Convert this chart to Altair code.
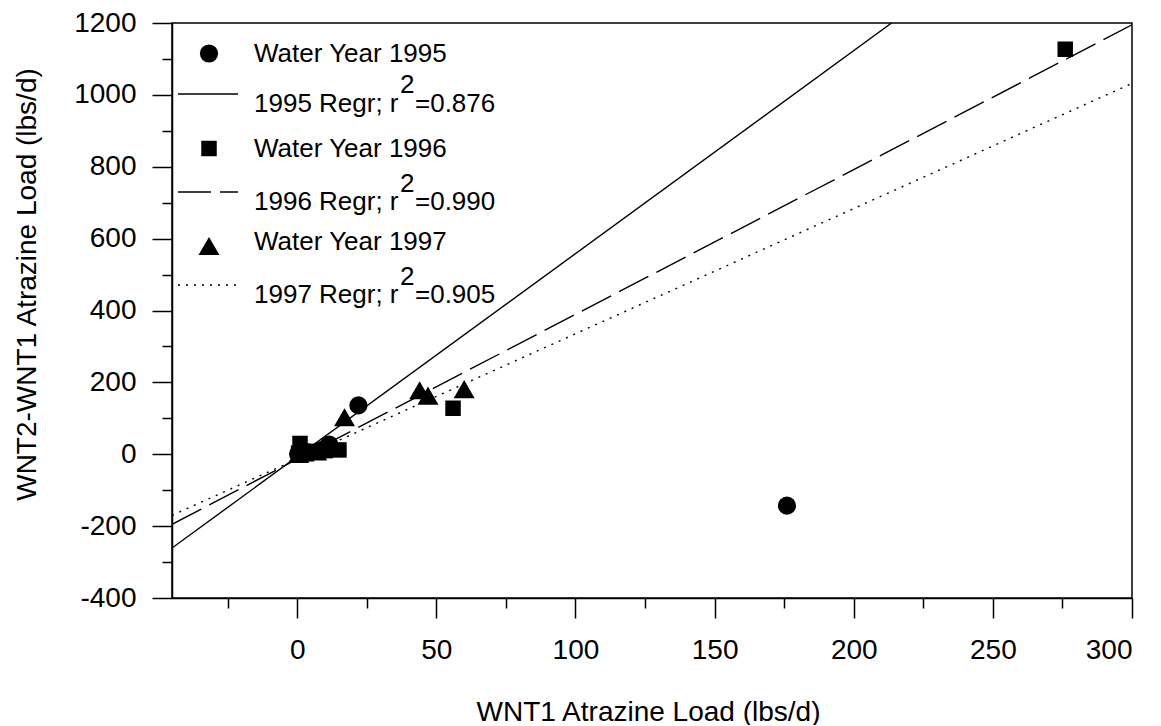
import altair as alt
import pandas as pd

# ---- data ----
x95 = [0.3, 1.5, 4.0, 9.0, 11.5, 22.0, 176.0]
y95 = [1, 2, 5, 12, 27, 136, -143]
x96 = [0.5, 1.0, 3.0, 6.0, 10.0, 15.0, 56.0, 276.0]
y96 = [3, 30, 4, 8, 10, 12, 128, 1127]
x97 = [0.5, 2.5, 7.0, 13.0, 17.0, 44.0, 47.0, 60.0]
y97 = [1, 5, 8, 18, 103, 178, 163, 181]

# regression line end points
lx95 = [-45, 213.6]
ly95 = [-261, 1200]
lx96 = [-45, 300]
ly96 = [-195, 1195]
lx97 = [-45, 300]
ly97 = [-170, 1032]

legend_series = ["Water Year 1995", "Water Year 1996", "Water Year 1997"]
legend_regr = ["1995 Regr; r", "1996 Regr; r", "1997 Regr; r"]
legend_r2 = ["=0.876", "=0.990", "=0.905"]

x_ticks = list(range(-25, 301, 25))
y_ticks = list(range(-400, 1201, 100))

FONT = "Arial, Liberation Sans, Helvetica, sans-serif"

xscale = alt.Scale(domain=[-45, 300], nice=False, zero=False)
yscale = alt.Scale(domain=[-400, 1200], nice=False, zero=False)

xaxis = alt.Axis(
    values=x_ticks,
    labelExpr="datum.value % 50 === 0 ? '' + datum.value : ''",
    tickSize={"condition": {"test": "datum.value % 50 === 0", "value": 20}, "value": 10},
    labelFontSize=28,
    labelBaseline="alphabetic",
    labelPadding=40,
    title="WNT1 Atrazine Load (lbs/d)",
    titleFontSize=28,
    titleX=476,
    titleY=122,
    titleBaseline="alphabetic",
    titleAlign="center",
)
yaxis = alt.Axis(
    values=y_ticks,
    labelExpr="datum.value % 200 === 0 ? '' + datum.value : ''",
    tickSize={"condition": {"test": "datum.value % 200 === 0", "value": 20}, "value": 10},
    labelFontSize=28,
    labelPadding=16,
    title="WNT2-WNT1 Atrazine Load (lbs/d)",
    titleFontSize=28,
    titleX=-145,
    titleY=261,
    titleAngle=-90,
    titleBaseline="middle",
    titleAlign="center",
)


def pts(xs, ys, shape, size):
    df = pd.DataFrame({"x": xs, "y": ys})
    return alt.Chart(df).mark_point(
        shape=shape, filled=True, color="black", opacity=1, size=size, strokeWidth=0
    ).encode(
        x=alt.X("x:Q", scale=xscale, axis=xaxis),
        y=alt.Y("y:Q", scale=yscale, axis=yaxis),
    )


def line(xs, ys, dash):
    df = pd.DataFrame({"x": xs, "y": ys})
    kw = dict(color="black", strokeWidth=1.4, clip=True)
    if dash:
        kw["strokeDash"] = dash
    return alt.Chart(df).mark_line(**kw).encode(
        x=alt.X("x:Q", scale=xscale, axis=xaxis),
        y=alt.Y("y:Q", scale=yscale, axis=yaxis),
    )


one = pd.DataFrame({"a": [0]})


def ltext(txt, x, y, size=26):
    return alt.Chart(one).mark_text(
        text=txt, align="left", baseline="alphabetic", font=FONT, fontSize=size, color="black"
    ).encode(x=alt.value(x), y=alt.value(y))


def lsym(shape, x, y, size):
    return alt.Chart(one).mark_point(
        shape=shape, filled=True, color="black", opacity=1, size=size, strokeWidth=0
    ).encode(x=alt.value(x), y=alt.value(y))


def lrule(y, dash):
    kw = dict(color="black", strokeWidth=1.4)
    if dash:
        kw["strokeDash"] = dash
    return alt.Chart(one).mark_rule(**kw).encode(
        x=alt.value(6), x2=alt.value(66), y=alt.value(y)
    )


TRI = 440

# legend positions relative to plot area (origin at 172, 23)
OX, OY = 172, 23
sym_x = 209 - OX
txt_x = 254 - OX
sup_x = 400 - OX
r2_x = 415 - OX
legend_layers = [
    lsym("circle", sym_x, 53.5 - OY, 330),
    ltext(legend_series[0], txt_x, 62 - OY),
    lrule(94 - OY, None),
    ltext(legend_regr[0], txt_x, 112 - OY),
    ltext("2", sup_x, 93 - OY),
    ltext(legend_r2[0], r2_x, 112 - OY),
    lsym("square", sym_x, 148.5 - OY, 240),
    ltext(legend_series[1], txt_x, 157 - OY),
    lrule(192 - OY, [33, 9]),
    ltext(legend_regr[1], txt_x, 210 - OY),
    ltext("2", sup_x, 192 - OY),
    ltext(legend_r2[1], r2_x, 210 - OY),
    lsym("triangle-up", sym_x, 246 - OY, TRI),
    ltext(legend_series[2], txt_x, 250 - OY),
    lrule(285 - OY, [2, 6]),
    ltext(legend_regr[2], txt_x, 303 - OY),
    ltext("2", sup_x, 285 - OY),
    ltext(legend_r2[2], r2_x, 303 - OY),
]

chart = alt.layer(
    line(lx95, ly95, None),
    line(lx96, ly96, [33, 9]),
    line(lx97, ly97, [2, 6]),
    pts(x95, y95, "circle", 330),
    pts(x96, y96, "square", 240),
    pts(x97, y97, "triangle-up", TRI),
    *legend_layers,
).properties(
    width=960,
    height=575,
    autosize=alt.AutoSizeParams(type="none"),
    padding={"left": 164, "top": 15, "right": 21, "bottom": 127},
    background="white",
).configure_view(
    stroke="black", strokeWidth=1.5
).configure_axis(
    grid=False,
    domainColor="black",
    domainWidth=1.5,
    tickColor="black",
    tickWidth=1.5,
    labelColor="black",
    titleColor="black",
    labelFont=FONT,
    titleFont=FONT,
    titleFontWeight="normal",
)

chart.save("out.html", embed_options={"renderer": "svg", "actions": False})
